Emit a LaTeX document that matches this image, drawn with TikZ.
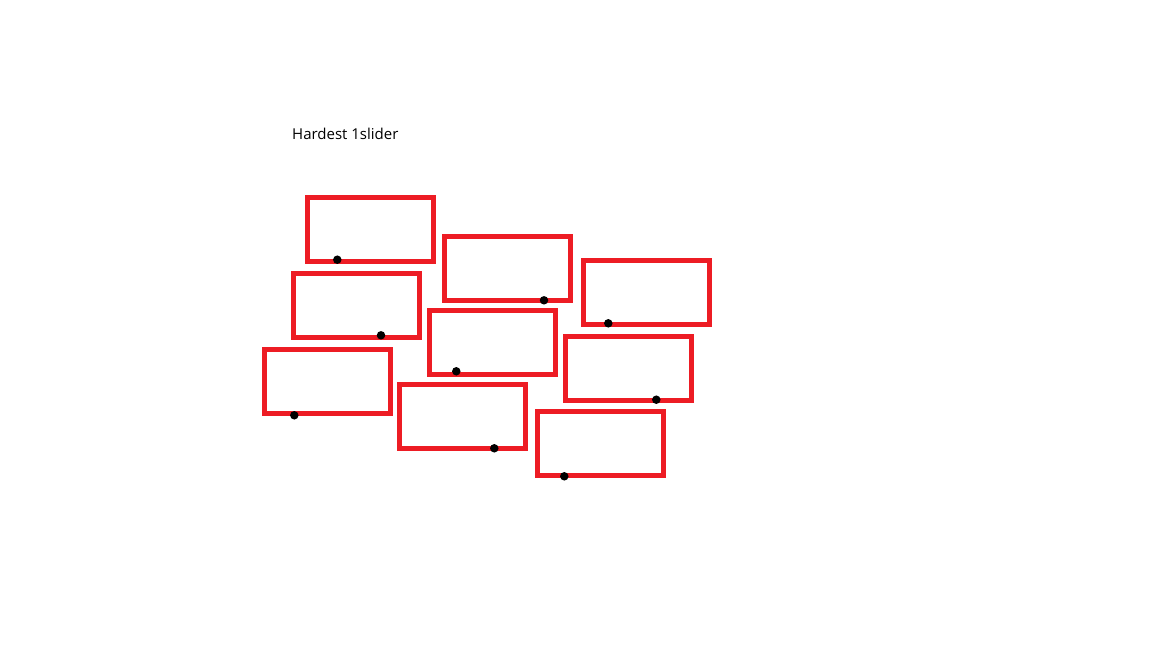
\documentclass[tikz,border=0pt]{standalone}
\usepackage{fontspec}
\setmainfont{Open Sans}
\usetikzlibrary{positioning}

\definecolor{paintred}{RGB}{237,28,36}

\tikzset{
  slider/.style={draw=paintred,line width=5pt,minimum width=126pt,minimum height=64pt,inner sep=0pt},
  hitdot/.style={circle,fill=black,minimum size=8.5pt,inner sep=0pt}
}

\begin{document}
\begin{tikzpicture}[x=1pt,y=-1pt]
			\useasboundingbox (0,0) rectangle (1152,648);
			\node[anchor=base west,font=\fontsize{15}{18}\selectfont,inner sep=0pt] (title) at (292,139) {Hardest 1slider};
			% left column
			\node[slider] (s1) at (370.4,229.3) {};
			\node[slider] (s2) at (356.5,305.5) {};
			\node[slider] (s3) at (327.5,381.3) {};
			% middle column
			\node[slider] (s4) at (507.5,268.3) {};
			\node[slider] (s5) at (492.3,342.3) {};
			\node[slider] (s6) at (462.5,416.3) {};
			% right column
			\node[slider] (s7) at (646.5,292.3) {};
			\node[slider] (s8) at (628.5,368.3) {};
			\node[slider] (s9) at (600.5,443.5) {};
			% circles
			\node[hitdot] (d1) at (337.3,259.7) {};
			\node[hitdot] (d2) at (381,335.3) {};
			\node[hitdot] (d3) at (294.3,415.3) {};
			\node[hitdot] (d4) at (544,300.3) {};
			\node[hitdot] (d5) at (456.3,371.3) {};
			\node[hitdot] (d6) at (494.3,448.3) {};
			\node[hitdot] (d7) at (608.3,323.3) {};
			\node[hitdot] (d8) at (656.3,399.7) {};
			\node[hitdot] (d9) at (564.3,476.3) {};
\end{tikzpicture}
\end{document}
